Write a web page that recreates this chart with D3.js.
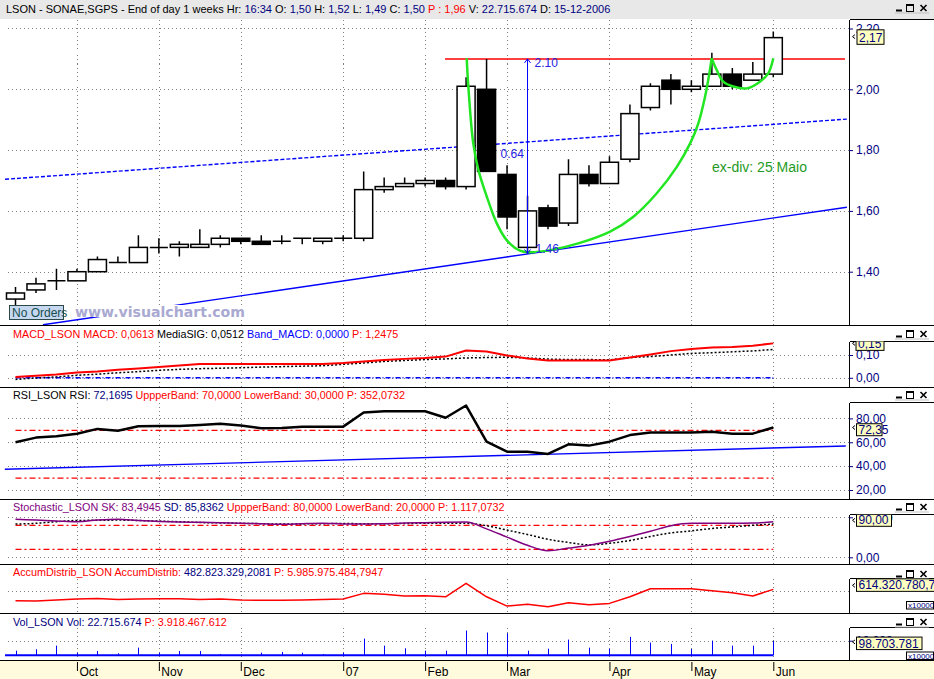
<!DOCTYPE html>
<html><head><meta charset="utf-8">
<script src="https://cdn.jsdelivr.net/npm/d3@7/dist/d3.min.js"></script>
<style>
html,body{margin:0;padding:0;background:#fff;overflow:hidden}
svg{display:block;font-family:"Liberation Sans",Arial,Helvetica,sans-serif}
.grid{stroke:#808080;stroke-width:1;stroke-dasharray:1,3;shape-rendering:crispEdges;fill:none}
text{white-space:pre}
</style></head><body>
<svg id="chart" width="934" height="679"></svg>
<script>
// ================= DATA =================
const open  = [1.31,1.34,1.37,1.37,1.40,1.43,1.43,1.48,1.48,1.48,1.49,1.51,1.50,1.50,1.51,1.50,1.51,1.51,1.67,1.68,1.69,1.70,1.68,2.00,1.72,1.48,1.61,1.56,1.72,1.69,1.77,1.94,2.03,2.00,2.01,2.05,2.03,2.05];
const high  = [1.35,1.38,1.41,1.41,1.45,1.45,1.52,1.51,1.50,1.54,1.52,1.51,1.52,1.52,1.51,1.51,1.52,1.73,1.71,1.71,1.71,1.71,2.04,2.10,1.75,1.65,1.62,1.77,1.75,1.78,1.95,2.02,2.05,2.03,2.12,2.07,2.09,2.19];
const low   = [1.29,1.33,1.34,1.37,1.40,1.43,1.43,1.46,1.45,1.48,1.48,1.49,1.49,1.49,1.49,1.49,1.50,1.50,1.66,1.68,1.68,1.67,1.67,1.73,1.54,1.46,1.54,1.55,1.68,1.69,1.76,1.93,1.95,1.99,2.01,2.00,2.03,2.04];
const close = [1.33,1.36,1.37,1.40,1.44,1.43,1.48,1.48,1.49,1.49,1.51,1.50,1.49,1.50,1.51,1.51,1.51,1.67,1.68,1.69,1.70,1.68,2.01,1.73,1.58,1.60,1.55,1.72,1.69,1.76,1.92,2.01,2.00,2.01,2.05,2.01,2.05,2.17];

const monthTickIndex = [3,7,11,16,20,24,29,33,37];
const monthLabels = ["Oct","Nov","Dec","07","Feb","Mar","Apr","May","Jun"];
const priceTicks = [1.4,1.6,1.8,2.0,2.2];

const macd       = [0.003,0.009,0.015,0.023,0.028,0.035,0.041,0.047,0.054,0.060,0.060,0.060,0.060,0.060,0.060,0.060,0.065,0.072,0.078,0.083,0.087,0.093,0.120,0.115,0.098,0.085,0.076,0.076,0.076,0.076,0.089,0.102,0.117,0.126,0.133,0.135,0.141,0.151];
const macdSignal = [-0.007,-0.001,0.004,0.011,0.016,0.022,0.027,0.033,0.037,0.040,0.042,0.044,0.047,0.049,0.051,0.053,0.059,0.065,0.072,0.076,0.080,0.083,0.087,0.089,0.090,0.087,0.082,0.080,0.080,0.079,0.089,0.093,0.100,0.107,0.110,0.114,0.118,0.124];
const macdBand = 0;
const macdTicks = [0, 0.1];

const rsi = [60,63.9,65,67.2,71.2,69.6,73.5,73.7,73.7,74.5,75.6,74,71.8,71.9,73,73.1,73.1,85,86,86,86,80.5,90.8,60.6,52.1,52.1,50.2,58.3,57.2,60.5,66,68.1,68.1,68.1,68.9,67.2,67.2,72.35];
const rsiTicks = [20,40,60,80];
const rsiBands = [70,30];

const stochK = [95,93,91,89,93,95,92,89.5,88,87.5,86.5,85,84,82.5,84,85,83.5,83,84,85.5,86.5,87.5,88,71,50.5,30,16.5,23,30,40,52,65,79,85,85,85,85.5,89];
const stochD = [83,85,89,92,92.5,93,92,90.5,89,87,86,85,84,83,83.5,84,84.5,84,84,84.5,85,85,85,79,68,57,45,37,31,35,42,52,61,66,72,76,80,83];
const stochTicks = [0,100];
const stochBands = [80,20];

// Accumulation/Distribution, millions
const accum = [474,470,482,495,503,491,495,499,499,491,495,483,479,479,482,489,495,565,553,532,536,523,688,523,409,430,400,449,425,442,523,622,622,622,597,572,532,614];
const accumTicks = [600];

// Volume, millions of shares
const volume = [31.7,41.4,66.2,17.9,29.7,13.8,52.4,17.9,29.7,29.7,9.0,6.9,17.9,22.7,17.9,9.0,17.9,114.5,66.2,48.3,31.7,31.7,169.7,155.9,151.8,31.7,45.5,107.6,52.4,45.5,126.3,86.9,78.0,43.5,100.7,66.2,66.2,98.7];
const volTicks = [100];

// Drawn annotations (bar index, price)
const resistIdx = [20.97,40.5],  resistPrice = [2.10,2.10];
const chanTopIdx = [-0.51,40.59], chanTopPrice = [1.704,1.902];
const chanBotIdx = [1.34,40.59],  chanBotPrice = [1.2253,1.612];
const cupIdx   = [22.03,22.11,22.35,22.60,23.01,23.50,23.98,24.63,25.12,26.10,27.56,29.03,30.17,31.31,32.29,32.94,33.34,33.67,33.88,33.99];
const cupPrice = [2.102,2.009,1.822,1.735,1.647,1.559,1.504,1.469,1.464,1.471,1.495,1.532,1.581,1.658,1.745,1.822,1.888,1.976,2.053,2.102];
const handleIdx   = [33.99,34.24,34.56,35.05,35.70,36.35,36.76,37.00];
const handlePrice = [2.102,2.063,2.025,2.009,2.003,2.025,2.053,2.102];
const measureIdx = 25, measureLow = 1.46, measureHigh = 2.10;
const rsiTrendIdx = [-0.52,40.54], rsiTrendVal = [37.35,56.87];

// ================= DRAW =================
const svg = d3.select("#chart");
const defs = svg.append("defs");
const PR = 849;
const NAVY = "#000080";
function clip(id,x0,y0,x1,y1){
  defs.append("clipPath").attr("id",id).append("rect")
    .attr("x",x0).attr("y",y0).attr("width",x1-x0).attr("height",y1-y0);
  return `url(#${id})`;
}
const x = d3.scaleLinear().domain([0,37]).range([15.5,773.3]);
const px = v => Math.round(v)+0.5;

const P = {
  main :{top:19.5, bottom:325.5},
  macd :{sep:325.5, top:341.5, bottom:387.5},
  rsi  :{sep:387.5, top:402.5, bottom:499.5},
  stoch:{sep:499.5, top:514.5, bottom:564.5},
  ad   :{sep:564.5, top:578.5, bottom:613.5},
  vol  :{sep:613.5, top:627.5, bottom:660.5}
};
const yP = d3.scaleLinear().domain([1.4,2.0]).range([271.7,89.3]);
const yM = d3.scaleLinear().domain([0,0.1]).range([377.8,355]);
const yR = d3.scaleLinear().domain([20,80]).range([490,418.4]);
const yS = d3.scaleLinear().domain([0,100]).range([557.3,517.3]);
const yA = d3.scaleLinear().domain([400,600]).range([606.8,590.5]);
const yV = d3.scaleLinear().domain([0,100]).range([655.3,640.7]);

svg.append("rect").attr("x",0).attr("y",0).attr("width",934).attr("height",19).attr("fill","#e8e8e8");
svg.append("rect").attr("x",0).attr("y",661).attr("width",934).attr("height",18).attr("fill","#fffbdc");

function grid(g, yScale, ticks, top, bottom){
  ticks.forEach(t=>{
    g.append("line").attr("class","grid").attr("x1",8).attr("x2",PR)
      .attr("y1",px(yScale(t))).attr("y2",px(yScale(t)));
  });
  monthTickIndex.forEach(i=>{
    g.append("line").attr("class","grid").attr("x1",px(x(i))).attr("x2",px(x(i)))
      .attr("y1",top).attr("y2",bottom);
  });
}
function seriesLine(g, vals, yScale, color, w, dash, curve){
  g.append("path").datum(vals)
    .attr("fill","none").attr("stroke",color).attr("stroke-width",w)
    .attr("stroke-dasharray",dash||null).attr("stroke-linejoin","round")
    .attr("d", d3.line().x((d,i)=>x(i)).y(d=>yScale(d)).curve(curve||d3.curveLinear));
}
function segLine(g, idx, vals, yScale, color, w, dash){
  g.append("path").datum(d3.zip(idx,vals))
    .attr("fill","none").attr("stroke",color).attr("stroke-width",w)
    .attr("stroke-dasharray",dash||null)
    .attr("d", d3.line().x(d=>x(d[0])).y(d=>yScale(d[1])));
}

// ---------- MAIN PANEL ----------
const gMain = svg.append("g").attr("clip-path", clip("cMain",0,P.main.top,PR,P.main.bottom));
grid(gMain, yP, priceTicks, P.main.top, P.main.bottom);
segLine(gMain, chanTopIdx, chanTopPrice, yP, "#0000ff", 1.4, "4,2");
segLine(gMain, chanBotIdx, chanBotPrice, yP, "#0000ff", 1.4);
gMain.append("rect").attr("x",75).attr("y",305).attr("width",170).attr("height",12).attr("fill","#fff");
gMain.append("text").attr("x",75).attr("y",316.5).attr("textLength",170).attr("lengthAdjust","spacingAndGlyphs")
  .attr("font-family","'DejaVu Sans',Verdana,sans-serif").attr("font-weight","bold").attr("font-size",14)
  .attr("fill","#a9a9d2").text("www.visualchart.com");
segLine(gMain, resistIdx, resistPrice, yP, "#ff0000", 1.5);

const bars = d3.range(open.length).map(i=>({i,o:open[i],h:high[i],l:low[i],c:close[i]}));
const bw = (x(1)-x(0))*0.88;
const cg = gMain.append("g");
cg.selectAll("line.wick").data(bars).join("line").attr("class","wick")
  .attr("x1",d=>x(d.i)).attr("x2",d=>x(d.i)).attr("y1",d=>yP(d.h)).attr("y2",d=>yP(d.l))
  .attr("stroke","#000").attr("stroke-width",1.5);
cg.selectAll("rect.body").data(bars.filter(d=>d.o!==d.c)).join("rect").attr("class","body")
  .attr("x",d=>x(d.i)-bw/2).attr("width",bw)
  .attr("y",d=>yP(Math.max(d.o,d.c))).attr("height",d=>Math.abs(yP(d.o)-yP(d.c)))
  .attr("fill",d=>d.c>d.o?"#fff":"#000").attr("stroke","#000").attr("stroke-width",1.5);
cg.selectAll("line.doji").data(bars.filter(d=>d.o===d.c)).join("line").attr("class","doji")
  .attr("x1",d=>x(d.i)-bw/2).attr("x2",d=>x(d.i)+bw/2).attr("y1",d=>yP(d.o)).attr("y2",d=>yP(d.o))
  .attr("stroke","#000").attr("stroke-width",1.5);

const cupLine = d3.line().x(d=>x(d[0])).y(d=>yP(d[1])).curve(d3.curveCatmullRom);
gMain.append("path").datum(d3.zip(cupIdx,cupPrice)).attr("d",cupLine)
  .attr("fill","none").attr("stroke","#22e622").attr("stroke-width",2.5);
gMain.append("path").datum(d3.zip(handleIdx,handlePrice)).attr("d",cupLine)
  .attr("fill","none").attr("stroke","#22e622").attr("stroke-width",2.5);

const ax = x(measureIdx), ayT = yP(measureHigh), ayB = yP(measureLow);
const ag = gMain.append("g").attr("stroke","#0000ff").attr("fill","none").attr("stroke-width",1);
ag.append("line").attr("x1",ax).attr("x2",ax).attr("y1",ayT).attr("y2",ayB);
ag.append("path").attr("d",`M${ax-3},${ayT+4}L${ax},${ayT}L${ax+3},${ayT+4}`);
ag.append("path").attr("d",`M${ax-3},${ayB-4}L${ax},${ayB}L${ax+3},${ayB-4}`);
const lab = (t,xx,yy)=>gMain.append("text").attr("x",xx).attr("y",yy).attr("font-size",12).attr("fill","#2424e0").text(t);
lab(d3.format(".2f")(measureHigh), ax+7, ayT+8);
lab(d3.format(".2f")(measureHigh-measureLow), ax-27, yP((measureHigh+measureLow)/2)+2);
lab(d3.format(".2f")(measureLow), ax+8, ayB);

gMain.append("text").attr("x",712).attr("y",172).attr("font-size",14).attr("fill","#1f9a1f").text("ex-div: 25 Maio");

gMain.append("rect").attr("x",9.5).attr("y",305.5).attr("width",54).attr("height",14)
  .attr("fill","#c6d8f0").attr("stroke","#2a4848");
gMain.append("text").attr("x",12).attr("y",317).attr("font-size",12).attr("fill","#164e4e").text("No Orders");

// ---------- MACD ----------
const gM = svg.append("g").attr("clip-path", clip("cM",0,P.macd.top,PR,P.macd.bottom));
grid(gM, yM, macdTicks, P.macd.top, P.macd.bottom);
gM.append("line").attr("x1",x(0)).attr("x2",x(37)).attr("y1",yM(macdBand)).attr("y2",yM(macdBand))
  .attr("stroke","#0000ff").attr("stroke-width",1.5).attr("stroke-dasharray","5,2,1,2");
seriesLine(gM, macdSignal, yM, "#000", 1.5, "2,2");
seriesLine(gM, macd, yM, "#ff0000", 2);

// ---------- RSI ----------
const gR = svg.append("g").attr("clip-path", clip("cR",0,P.rsi.top,PR,P.rsi.bottom));
grid(gR, yR, rsiTicks, P.rsi.top, P.rsi.bottom);
rsiBands.forEach(b=>gR.append("line").attr("x1",x(0)).attr("x2",x(37)).attr("y1",yR(b)).attr("y2",yR(b))
  .attr("stroke","#ff0000").attr("stroke-width",1.2).attr("stroke-dasharray","6,3,2,3"));
segLine(gR, rsiTrendIdx, rsiTrendVal, yR, "#0000ff", 1.4);
seriesLine(gR, rsi, yR, "#000", 2.5);

// ---------- STOCHASTIC ----------
const gS = svg.append("g").attr("clip-path", clip("cS",0,P.stoch.top,PR,P.stoch.bottom));
grid(gS, yS, stochTicks, P.stoch.top, P.stoch.bottom);
stochBands.forEach(b=>gS.append("line").attr("x1",x(0)).attr("x2",x(37)).attr("y1",yS(b)).attr("y2",yS(b))
  .attr("stroke","#ff0000").attr("stroke-width",1.2).attr("stroke-dasharray","6,3,2,3"));
seriesLine(gS, stochD, yS, "#000", 1.5, "2,2", d3.curveMonotoneX);
seriesLine(gS, stochK, yS, "#800080", 1.5, null, d3.curveMonotoneX);

// ---------- ACCUM/DISTRIB ----------
const gA = svg.append("g").attr("clip-path", clip("cA",0,P.ad.top,PR,P.ad.bottom));
grid(gA, yA, accumTicks, P.ad.top, P.ad.bottom);
seriesLine(gA, accum, yA, "#ff0000", 1.5);

// ---------- VOLUME ----------
const gV = svg.append("g").attr("clip-path", clip("cV",0,P.vol.top,PR,P.vol.bottom));
grid(gV, yV, volTicks, P.vol.top, P.vol.bottom);
gV.selectAll("line.vb").data(volume).join("line").attr("class","vb")
  .attr("x1",(d,i)=>px(x(i))).attr("x2",(d,i)=>px(x(i))).attr("y1",yV(0)).attr("y2",d=>yV(d))
  .attr("stroke","#0000ff").attr("stroke-width",1);
gV.append("line").attr("x1",x(0)-10.5).attr("x2",x(37)).attr("y1",yV(0)).attr("y2",yV(0))
  .attr("stroke","#0000ff").attr("stroke-width",2);

// ---------- titles ----------
function title(yb, segs){
  const t = svg.append("text").attr("x",13).attr("y",yb).attr("font-size",10.8);
  segs.forEach(s=>t.append("tspan").attr("fill",s[1]).text(s[0]));
}
const hdr = svg.append("text").attr("x",6).attr("y",12.5).attr("font-size",11);
[["LSON - SONAE,SGPS - End of day 1 weeks Hr: ","#000"],["16:34","#000080"],[" O: ","#000"],["1,50","#000080"],
 [" H: ","#000"],["1,52","#000080"],[" L: ","#000"],["1,49","#000080"],[" C: ","#000"],["1,50","#000080"],
 [" P : 1,96","#ff0000"],[" V: ","#000"],["22.715.674","#000080"],[" D: ","#000"],["15-12-2006","#000080"]]
 .forEach(s=>hdr.append("tspan").attr("fill",s[1]).text(s[0]));
title(337.5, [["MACD_LSON MACD: 0,0613 ","#ff0000"],["MediaSIG: 0,0512 ","#000"],["Band_MACD: 0,0000 ","#0000ff"],["P: 1,2475","#ff0000"]]);
title(399,   [["RSI_LSON RSI: ","#000"],["72,1695 ",NAVY],["UppperBand: 70,0000 LowerBand: 30,0000 P: 352,0732","#ff0000"]]);
title(510.5, [["Stochastic_LSON SK: 83,4945 ","#800080"],["SD: 85,8362 ",NAVY],["UppperBand: 80,0000 LowerBand: 20,0000 P: 1.117,0732","#ff0000"]]);
title(575.5, [["AccumDistrib_LSON AccumDistrib: ","#ff0000"],["482.823.329,2081 ",NAVY],["P: 5.985.975.484,7947","#ff0000"]]);
title(625.5, [["Vol_LSON Vol: ",NAVY],["22.715.674 ",NAVY],["P: 3.918.467.612","#ff0000"]]);

// ---------- separators and axis boxes ----------
const sepG = svg.append("g").attr("stroke","#000").attr("stroke-width",1).attr("shape-rendering","crispEdges");
[P.main.bottom,P.rsi.sep,P.stoch.sep,P.ad.sep,P.vol.sep,P.vol.bottom].forEach(y=>
  sepG.append("line").attr("x1",0).attr("x2",934).attr("y1",y).attr("y2",y));
[[P.main.top,P.main.bottom],[P.macd.top,P.macd.bottom],[P.rsi.top,P.rsi.bottom],[P.stoch.top,P.stoch.bottom],[P.ad.top,P.ad.bottom],[P.vol.top,P.vol.bottom]]
 .forEach(([t,b])=>{
   sepG.append("line").attr("x1",PR+0.5).attr("x2",PR+0.5).attr("y1",t).attr("y2",b);
   sepG.append("line").attr("x1",PR+0.5).attr("x2",934).attr("y1",t).attr("y2",t);
 });

function controls(yc){
  const g = svg.append("g");
  g.append("rect").attr("x",896).attr("y",yc+1.5).attr("width",6).attr("height",2).attr("fill","#000");
  g.append("rect").attr("x",906.5).attr("y",yc-3.5).attr("width",7).attr("height",7).attr("fill","none").attr("stroke","#000");
  g.append("rect").attr("x",906.5).attr("y",yc-3.5).attr("width",7).attr("height",1.5).attr("fill","#000");
  g.append("path").attr("d",`M920.5,${yc-3}L926.5,${yc+3}M926.5,${yc-3}L920.5,${yc+3}`).attr("stroke","#000").attr("stroke-width",1.6);
  g.append("line").attr("x1",895).attr("x2",929).attr("y1",yc+5).attr("y2",yc+5).attr("stroke","#c0c0c0");
}
[8,334,395,507,574,622].forEach(controls);

// ---------- right axes ----------
const comma2 = d => d3.format(".2f")(d).replace(".",",");
function rAxis(yScale, vals, fmt, id, top, bottom){
  const g = svg.append("g").attr("transform",`translate(${PR},0)`)
    .attr("clip-path", clip(id,0,top,90,bottom))
    .call(d3.axisRight(yScale).tickValues(vals).tickFormat(fmt).tickSize(4).tickPadding(3));
  g.select(".domain").remove();
  g.selectAll(".tick line").attr("stroke",NAVY);
  g.selectAll(".tick text").attr("fill",NAVY).attr("font-size",12).attr("font-family","'Liberation Sans',Arial,sans-serif");
  return g;
}
rAxis(yP, priceTicks, comma2, "axP", P.main.top, P.main.bottom);
rAxis(yM, macdTicks, comma2, "axM", P.macd.top, P.macd.bottom);
rAxis(yR, rsiTicks, comma2, "axR", P.rsi.top, P.rsi.bottom);
rAxis(yS, stochTicks, comma2, "axS", P.stoch.top, P.stoch.bottom);
rAxis(yV, volTicks, d=>d3.format(",.3f")(d/10).replace(/,/g," ").replace(" ","."), "axV", P.vol.top, P.vol.bottom);

function valueBox(id, top, bottom, yTop, h, x1, x2, txt, yArrow){
  const g = svg.append("g").attr("clip-path", clip(id,PR+1,top,934,bottom));
  g.append("rect").attr("x",x1+0.5).attr("y",yTop+0.5).attr("width",x2-x1).attr("height",h)
    .attr("fill","#ffffc0").attr("stroke","#000");
  g.append("text").attr("x",x1+2.5).attr("y",yTop+h-1.5).attr("font-size",12).attr("fill",NAVY).text(txt);
  g.append("path").attr("d",`M855,${yArrow-2}L852.5,${yArrow}L855,${yArrow+2}`).attr("fill","none").attr("stroke","#000");
}
const lastI = close.length-1;
valueBox("vbP", P.main.top, P.main.bottom, yP(close[lastI])-8.3, 14.5, 856.5, 883.5, comma2(close[lastI]), yP(close[lastI])-1);
valueBox("vbM", P.macd.top, P.macd.bottom, yM(macd[lastI])-7.5, 14, 855.5, 883.5, comma2(macd[lastI]), yM(macd[lastI]));
valueBox("vbR", P.rsi.top, P.rsi.bottom, yR(rsi[lastI])-4.3, 12, 856, 881.5, comma2(rsi[lastI]), yR(rsi[lastI]));
valueBox("vbS", P.stoch.top, P.stoch.bottom, yS(90)-7.5, 12, 856, 891, "90,00", yS(90)-1);
valueBox("vbA", P.ad.top, P.ad.bottom, yA(accum[lastI])-11, 12.5, 856, 940, "614.320.780,7", yA(accum[lastI])-4);
valueBox("vbV", P.vol.top, P.vol.bottom, yV(volume[lastI])-4.3, 12.5, 856, 921.5, "98.703.781", yV(volume[lastI])+1);
function multBox(yTop){
  svg.append("rect").attr("x",906.5).attr("y",yTop+0.5).attr("width",27).attr("height",7.5).attr("fill","#fff").attr("stroke","#000");
  svg.append("text").attr("x",908).attr("y",yTop+7.3).attr("font-size",8).attr("fill",NAVY).text("x10000");
}
multBox(601); multBox(651.5);

// ---------- date axis ----------
const xa = svg.append("g").attr("transform","translate(0,661)")
  .call(d3.axisBottom(x).tickValues(monthTickIndex).tickFormat((d,i)=>monthLabels[i]).tickSize(10).tickPadding(2));
xa.select(".domain").remove();
xa.selectAll(".tick line").attr("stroke","#000").attr("y1",1);
xa.selectAll(".tick text").attr("text-anchor","start").attr("x",2).attr("y",6).attr("dy","0.71em")
  .attr("fill","#000").attr("font-size",12).attr("font-family","'Liberation Sans',Arial,sans-serif");
</script>
</body></html>
